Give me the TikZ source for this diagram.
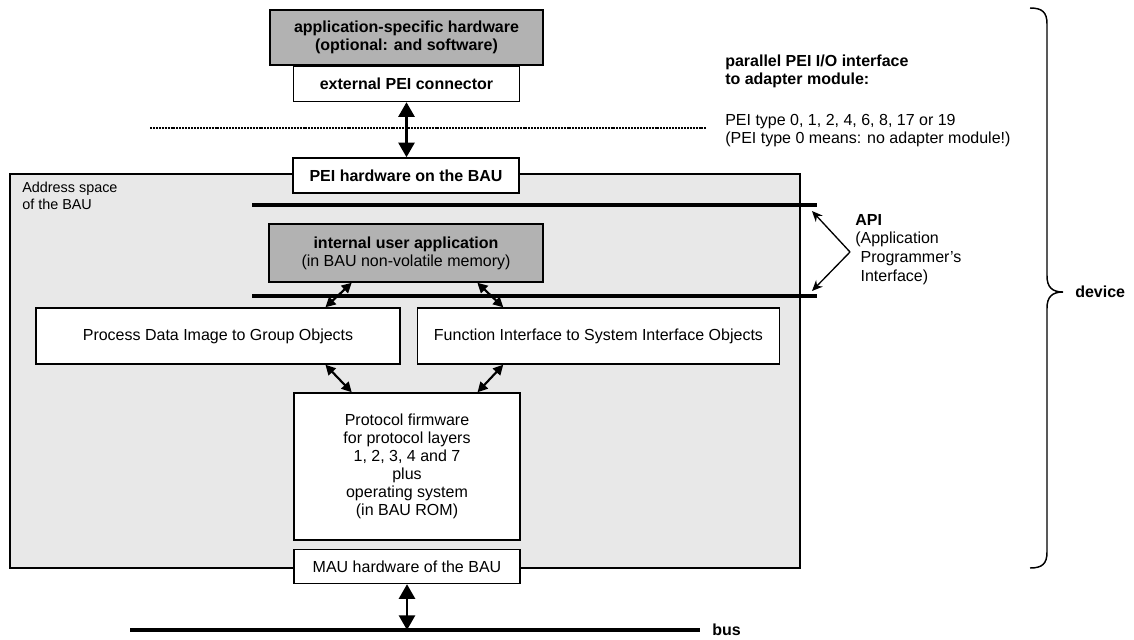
\documentclass[tikz,border=0pt]{standalone}
\usepackage{fontspec}
\setmainfont{Liberation Sans}
\usetikzlibrary{arrows.meta, positioning, calc}

\begin{document}
\begin{tikzpicture}[
    x=0.75pt, y=-0.75pt,
    font=\fontsize{12}{13.5}\selectfont,
    block/.style={rectangle, draw, line width=1.1pt, fill=white, align=center, inner sep=0pt},
    grayblock/.style={block, fill=black!30},
    bold/.style={font=\fontsize{12}{13.5}\selectfont\bfseries},
    small/.style={font=\fontsize{10.8}{12.5}\selectfont},
    dblarrow/.style={{Triangle[width=12pt,length=11pt]}-{Triangle[width=12pt,length=11pt]}, line width=2pt},
    smallarrow/.style={{Triangle[width=7.5pt,length=7.5pt]}-{Triangle[width=7.5pt,length=7.5pt]}, line width=1.6pt},
    apiarrow/.style={-{Stealth[length=8pt,width=7pt]}, line width=1pt},
    apiline/.style={line width=2.6pt},
    dotline/.style={line width=2pt, dash pattern=on 1.5pt off 0.7pt}
]
    \useasboundingbox (0,0) rectangle (1134,639);

    % address space of the BAU
    \node [draw, line width=0.8pt, fill=black!9, minimum width=592.5pt, minimum height=295.5pt] (bau) at (405,371) {};
    \node [small, anchor=north west, align=left, inner sep=0pt] (bautxt) at (22,182) {Address space\\of the BAU};

    % API lines
    \coordinate (apiAl) at (252,205);
    \coordinate (apiAr) at (817,205);
    \coordinate (apiBl) at (252,296);
    \coordinate (apiBr) at (817,296);
    \draw [apiline] (apiAl) -- (apiAr);
    \draw [apiline] (apiBl) -- (apiBr);

    % blocks
    \node [grayblock, bold, minimum width=204.75pt, minimum height=41.25pt] (hwapp) at (406.5,37.5) {application-specific hardware\\(optional: and software)};
    \node [block, bold, below=0pt of hwapp, minimum width=169.5pt, minimum height=26.25pt] (extcon) {external PEI connector};
    \node [block, bold, minimum width=169.5pt, minimum height=26.25pt] (peihw) at (406,175.5) {PEI hardware on the BAU};
    \node [grayblock, minimum width=205.5pt, minimum height=43.5pt] (app) at (406,253) {\textbf{internal user application}\\(in BAU non-volatile memory)};
    \node [block, minimum width=273pt, minimum height=42pt] (proc) at (218,336) {Process Data Image to Group Objects};
    \node [block, right=12pt of proc, minimum width=271.5pt, minimum height=42pt] (func) {Function Interface to System Interface Objects};
    \node [block, minimum width=169.5pt, minimum height=110.25pt] (proto) at (407,466.5) {Protocol firmware\\for protocol layers\\1, 2, 3, 4 and 7\\plus\\operating system\\(in BAU ROM)};
    \node [block, below=6pt of proto, minimum width=169.5pt, minimum height=25.5pt] (mau) {MAU hardware of the BAU};

    % PEI interface
    \coordinate (dotl) at (150,128);
    \coordinate (dotr) at (707,128);
    \draw [dotline] (dotl) -- (dotr);
    \draw [dblarrow] (extcon.south) -- (extcon.south |- peihw.north);
    \node [bold, anchor=north west, align=left, inner sep=0pt] (peihead) at (725,54.5) {parallel PEI I/O interface\\to adapter module:};
    \node [anchor=north west, align=left, inner sep=0pt] (peitype) at (725,114.5) {PEI type 0, 1, 2, 4, 6, 8, 17 or 19\\(PEI type 0 means: no adapter module!)};

    % inner connections
    \draw [smallarrow] ($(app.south west)!.303!(app.south east)$) -- ($(proc.north west)!.794!(proc.north east)$);
    \draw [smallarrow] ($(app.south west)!.759!(app.south east)$) -- ($(func.north west)!.238!(func.north east)$);
    \draw [smallarrow] ($(proc.south west)!.794!(proc.south east)$) -- ($(proto.north west)!.257!(proto.north east)$);
    \draw [smallarrow] ($(func.south west)!.238!(func.south east)$) -- ($(proto.north west)!.81!(proto.north east)$);

    % API
    \coordinate (apitip) at (850,252);
    \coordinate (apiup) at (812,211);
    \coordinate (apidn) at (812,291);
    \draw [apiarrow] (apitip) -- (apiup);
    \draw [apiarrow] (apitip) -- (apidn);
    \node [anchor=north west, align=left, inner sep=0pt, font=\fontsize{12}{14}\selectfont] (api) at (855,214) {\textbf{API}\\(Application\\\hphantom{(}Programmer's\\\hphantom{(}Interface)};

    % bus
    \coordinate (busl) at (130,630);
    \coordinate (busr) at (700,630);
    \draw [line width=3pt] (busl) -- (busr);
    \draw [dblarrow] (mau.south) -- (mau.south |- busl);
    \node [bold, anchor=west, inner sep=0pt] (bus) at (712,630) {bus};

    % device brace
    \draw [line width=1.1pt] (1030,8) .. controls (1042,8) and (1047,12) .. (1047,24) -- (1047,276)
        .. controls (1047,287) and (1052,292) .. (1063,292)
        .. controls (1052,292) and (1047,297) .. (1047,308) -- (1047,552)
        .. controls (1047,564) and (1042,568) .. (1030,568);
    \node [bold, anchor=west, inner sep=0pt] (device) at (1075,292) {device};
\end{tikzpicture}
\end{document}
